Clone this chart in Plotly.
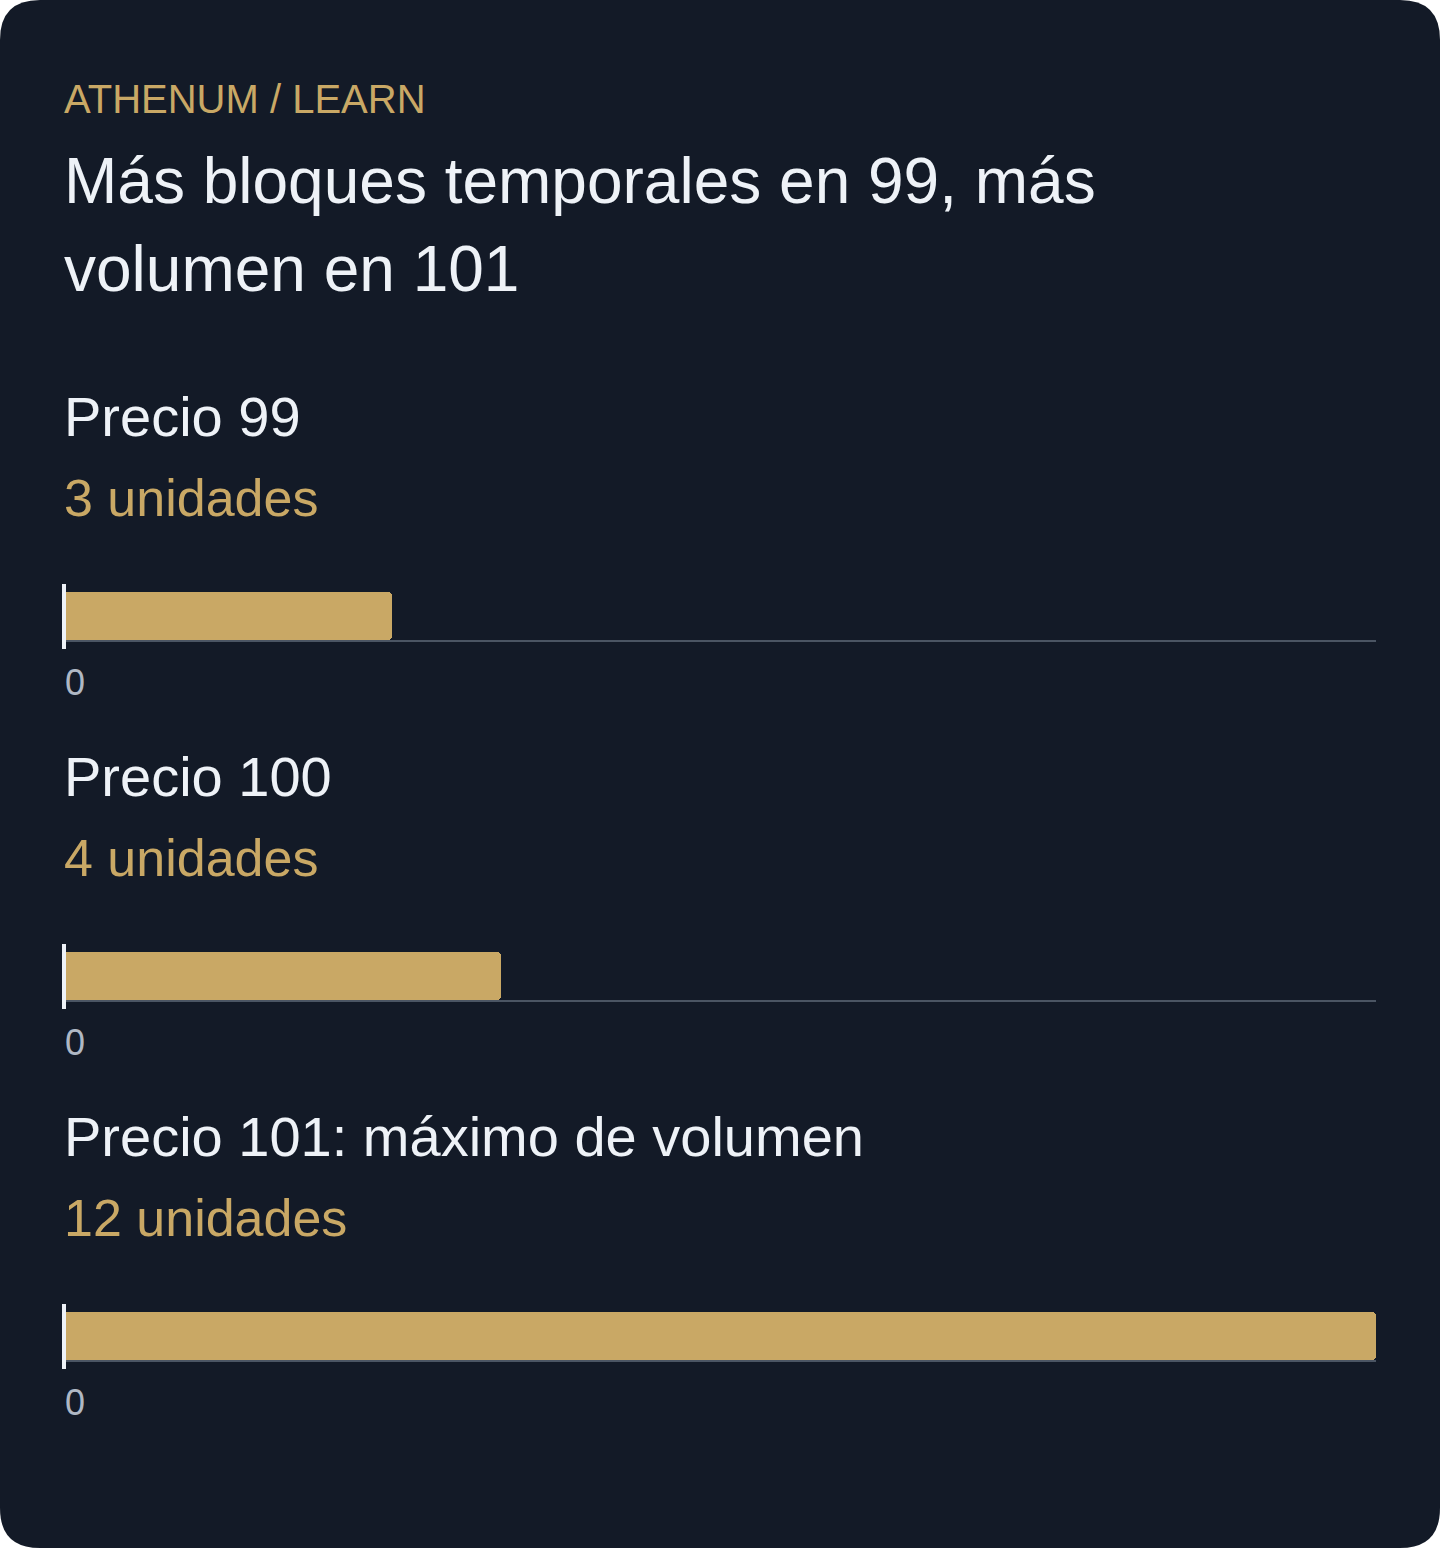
import plotly.graph_objects as go

# Data
price_labels = ["Precio 99", "Precio 100", "Precio 101: máximo de volumen"]
units = [3, 4, 12]
unit_labels = ["3 unidades", "4 unidades", "12 unidades"]
tick_values = [0]
tick_text = ["0"]

W, H = 1440, 1548
BG = "#131a27"
GOLD = "#c9a865"
WHITE = "#eef2f7"
FONT = "Liberation Sans, Arial, sans-serif"


def px_y(p):
    # pixel from top -> paper fraction
    return 1 - p / H


def px_x(p):
    return p / W


fig = go.Figure()

# Rounded card behind everything
r = 40
rx, ry = r / W, r / H
card = (f"M {rx},1 L {1 - rx},1 Q 1,1 1,{1 - ry} "
        f"L 1,{ry} Q 1,0 {1 - rx},0 "
        f"L {rx},0 Q 0,0 0,{ry} "
        f"L 0,{1 - ry} Q 0,1 {rx},1 Z")
fig.add_shape(type="path", path=card, xref="paper", yref="paper",
              fillcolor=BG, line=dict(width=0), layer="below")

TX = px_x(62)  # left edge for text (annotation adds ~2px padding)

annotations = [
    dict(text="ATHENUM / LEARN", x=TX, y=px_y(113 + 10), font=dict(size=40, color=GOLD)),
    dict(text="Más bloques temporales en 99, más", x=TX, y=px_y(204 + 15), font=dict(size=64, color=WHITE)),
    dict(text="volumen en 101", x=TX, y=px_y(292 + 15), font=dict(size=64, color=WHITE)),
]

step = 360
for i, (label, val, ulabel) in enumerate(zip(price_labels, units, unit_labels)):
    off = i * step
    n = "" if i == 0 else str(i + 1)
    fig.add_trace(go.Bar(
        x=[val], y=[0], width=1, orientation="h",
        marker=dict(color=GOLD, cornerradius=4, line=dict(width=0)),
        xaxis="x" + n, yaxis="y" + n, showlegend=False,
        hovertemplate=f"{label}: %{{x}}<extra></extra>",
    ))
    fig.layout["xaxis" + n] = dict(
        domain=[px_x(64), px_x(1376)], range=[0, max(units)], anchor="y" + n,
        showgrid=False, zeroline=False,
        showline=True, linecolor="#4b5563", linewidth=2,
        ticks="outside", ticklen=7, tickwidth=4, tickcolor=WHITE,
        tickvals=tick_values, ticktext=tick_text, ticklabelposition="outside right",
        ticklabelstandoff=10, ticklabelshift=-2,
        tickfont=dict(size=36, color="#b0b8c4", family=FONT), fixedrange=True,
    )
    fig.layout["yaxis" + n] = dict(
        domain=[px_y(640 + off), px_y(584 + off)], range=[-0.5, 0.6667],
        anchor="x" + n, showgrid=False, zeroline=False, showticklabels=False,
        showline=False, fixedrange=True,
    )
    # white baseline marker at zero, spanning the plot height plus the tick
    fig.add_shape(type="line", xref=f"x{n} domain", yref=f"y{n} domain",
                  x0=0, x1=0, y0=-7 / 56, y1=1,
                  line=dict(color=WHITE, width=4), layer="above")
    annotations.append(dict(text=label, x=TX, y=px_y(437 + off + 13),
                            font=dict(size=56, color=WHITE)))
    annotations.append(dict(text=ulabel, x=TX, y=px_y(517 + off + 12),
                            font=dict(size=52, color=GOLD)))

for a in annotations:
    a.update(xref="paper", yref="paper", xanchor="left", yanchor="bottom",
             showarrow=False, align="left")
    a["font"]["family"] = FONT

fig.update_layout(
    width=W, height=H,
    margin=dict(l=0, r=0, t=0, b=0),
    paper_bgcolor="white", plot_bgcolor=BG,
    font=dict(family=FONT, color=WHITE),
    annotations=annotations,
    bargap=0,
)

fig.write_html("out.html", config={"displayModeBar": False},
               post_script="document.body.style.margin='0';")
